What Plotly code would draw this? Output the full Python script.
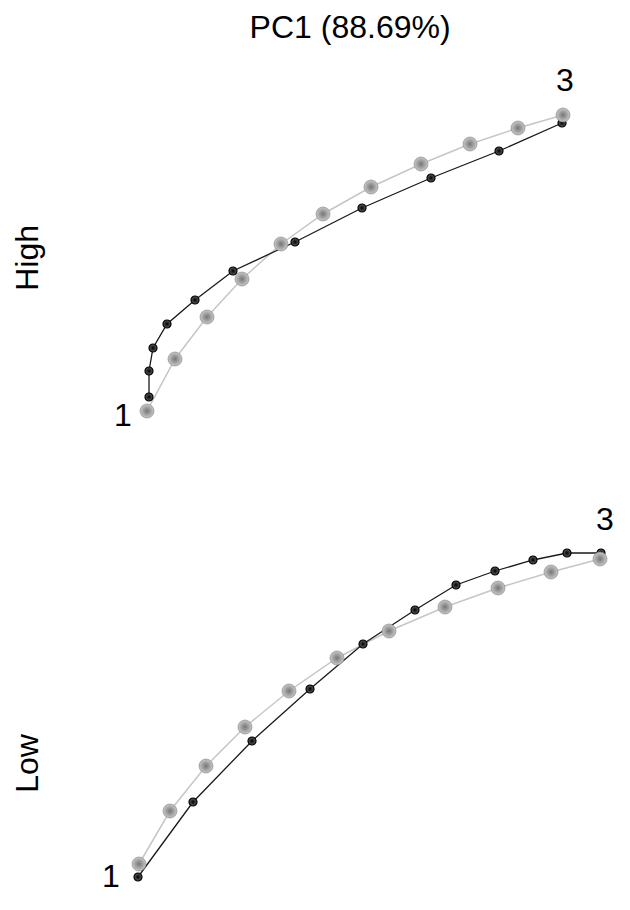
"""Trajectory of PC1 scores for the High and Low groups"""

import plotly.graph_objects as go
from plotly.subplots import make_subplots

# scores (arbitrary units, same scale in both panels)
HIGH_GRAY_X = [1.47, 1.75, 2.07, 2.42, 2.81, 3.23, 3.71, 4.21, 4.70, 5.18, 5.63]
HIGH_GRAY_Y = [0.44, 0.96, 1.38, 1.76, 2.11, 2.41, 2.68, 2.91, 3.11, 3.27, 3.40]
HIGH_BLACK_X = [1.49, 1.49, 1.53, 1.67, 1.95, 2.33, 2.95, 3.62, 4.31, 4.99, 5.62]
HIGH_BLACK_Y = [0.58, 0.84, 1.07, 1.31, 1.55, 1.84, 2.13, 2.47, 2.77, 3.04, 3.32]

LOW_GRAY_X = [1.39, 1.70, 2.06, 2.45, 2.89, 3.37, 3.89, 4.45, 4.98, 5.51, 6.00]
LOW_GRAY_Y = [0.46, 0.99, 1.44, 1.83, 2.19, 2.52, 2.79, 3.03, 3.22, 3.38, 3.51]
LOW_BLACK_X = [1.38, 1.93, 2.52, 3.10, 3.63, 4.15, 4.56, 4.95, 5.33, 5.67, 6.01]
LOW_BLACK_Y = [0.33, 1.08, 1.69, 2.21, 2.66, 3.00, 3.25, 3.39, 3.50, 3.57, 3.57]

START_LABEL = "1"
END_LABEL = "3"
PANEL_NAMES = ["High", "Low"]
TITLE = "PC1 (88.69%)"

FONT = "Liberation Sans, Arial, sans-serif"
FONT_SIZE = 32

fig = make_subplots(rows=2, cols=1, vertical_spacing=0.0)


def add_panel(fig, gray_x, gray_y, black_x, black_y, row):
    """Gray spheres and black dots joined by lines"""
    fig.add_trace(
        go.Scatter(
            x=gray_x,
            y=gray_y,
            mode="lines",
            line=dict(color="#c6c6c6", width=1.5),
            hoverinfo="skip",
        ),
        row=row,
        col=1,
    )
    fig.add_trace(
        go.Scatter(
            x=black_x,
            y=black_y,
            mode="lines+markers",
            line=dict(color="#1a1a1a", width=1.3),
            marker=dict(
                size=8,
                color="#606060",
                gradient=dict(type="radial", color="#000000"),
                line=dict(width=1.2, color="#000000"),
            ),
        ),
        row=row,
        col=1,
    )
    fig.add_trace(
        go.Scatter(
            x=gray_x,
            y=gray_y,
            mode="markers",
            marker=dict(
                size=14,
                color="#c8c8c8",
                gradient=dict(type="radial", color="#767676"),
                line=dict(width=0.6, color="#808080"),
            ),
        ),
        row=row,
        col=1,
    )


add_panel(fig, HIGH_GRAY_X, HIGH_GRAY_Y, HIGH_BLACK_X, HIGH_BLACK_Y, row=1)
add_panel(fig, LOW_GRAY_X, LOW_GRAY_Y, LOW_BLACK_X, LOW_BLACK_Y, row=2)

# start / end labels, anchored at the gray trajectory ends
label_specs = [
    (HIGH_GRAY_X[0], HIGH_GRAY_Y[0], START_LABEL, -24, -4, 1),
    (HIGH_GRAY_X[-1], HIGH_GRAY_Y[-1], END_LABEL, 2, 35, 1),
    (LOW_GRAY_X[0], LOW_GRAY_Y[0], START_LABEL, -28, -12, 2),
    (LOW_GRAY_X[-1], LOW_GRAY_Y[-1], END_LABEL, 5, 40, 2),
]
for x, y, text, dx, dy, row in label_specs:
    fig.add_annotation(
        x=x,
        y=y,
        text=text,
        showarrow=False,
        xshift=dx,
        yshift=dy,
        font=dict(family=FONT, size=FONT_SIZE, color="black"),
        row=row,
        col=1,
    )

# panel names on the left
for name, ypos in zip(PANEL_NAMES, [0.725, 0.170]):
    fig.add_annotation(
        x=0.031,
        y=ypos,
        xref="paper",
        yref="paper",
        xanchor="center",
        yanchor="middle",
        text=name,
        textangle=-90,
        showarrow=False,
        font=dict(family=FONT, size=FONT_SIZE, color="black"),
    )

# ranges nudged by the page's 8px body margin
fig.update_xaxes(range=[0.08, 6.38], visible=False, fixedrange=True)
fig.update_yaxes(range=[-0.08, 4.47], visible=False, fixedrange=True)
fig.update_layout(
    title=dict(
        text=TITLE,
        x=0.543,
        xanchor="center",
        y=0.979,
        yanchor="middle",
        font=dict(family=FONT, size=FONT_SIZE, color="black"),
    ),
    showlegend=False,
    width=630,
    height=910,
    margin=dict(l=0, r=0, t=0, b=0, pad=0),
    plot_bgcolor="white",
    paper_bgcolor="white",
)

fig.write_html("out.html")
